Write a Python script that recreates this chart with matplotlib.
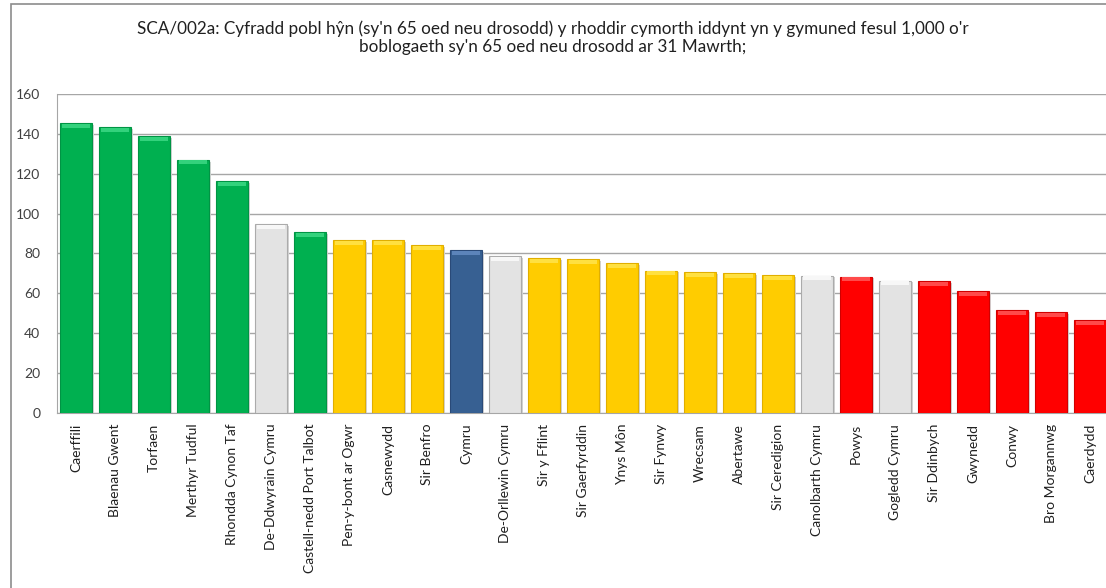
import numpy as np
import matplotlib
matplotlib.use("Agg")
import matplotlib.pyplot as plt
from matplotlib.patches import Rectangle

plt.rcParams['font.family'] = ['Lato', 'DejaVu Sans']

# Data
categories = ['Caerffili', 'Blaenau Gwent', 'Torfaen', 'Merthyr Tudful',
              'Rhondda Cynon Taf', 'De-Ddwyrain Cymru', 'Castell-nedd Port Talbot',
              'Pen-y-bont ar Ogwr', 'Casnewydd', 'Sir Benfro', 'Cymru',
              'De-Orllewin Cymru', 'Sir y Fflint', 'Sir Gaerfyrddin', 'Ynys Môn',
              'Sir Fynwy', 'Wrecsam', 'Abertawe', 'Sir Ceredigion',
              'Canolbarth Cymru', 'Powys', 'Gogledd Cymru', 'Sir Ddinbych',
              'Gwynedd', 'Conwy', 'Bro Morgannwg', 'Caerdydd']
values = [145.3, 143.3, 138.9, 127.0, 116.2, 94.6, 90.7, 86.5, 86.5, 84.2,
          81.7, 78.7, 77.7, 77.1, 75.0, 71.3, 70.5, 70.1, 69.1,
          68.8, 68.3, 66.3, 66.1, 60.9, 51.6, 50.5, 46.4]
groups = ['top'] * 5 + ['region', 'top'] + ['mid'] * 3 + ['wales', 'region'] + \
         ['mid'] * 7 + ['region', 'low', 'region'] + ['low'] * 5
y_ticks = [0, 20, 40, 60, 80, 100, 120, 140, 160]
title = ("SCA/002a: Cyfradd pobl hŷn (sy'n 65 oed neu drosodd) y rhoddir cymorth iddynt yn y gymuned fesul 1,000 o'r\n"
         "boblogaeth sy'n 65 oed neu drosodd ar 31 Mawrth;")

fill = {'top': '#00B050', 'region': '#E3E3E3', 'mid': '#FFCC00',
        'wales': '#376092', 'low': '#FF0000'}
edge = {'top': '#009444', 'region': '#ABABAB', 'mid': '#E0AE00',
        'wales': '#2A4A78', 'low': '#D00000'}
light = {'top': '#33D27C', 'region': '#F7F7F7', 'mid': '#FFE040',
         'wales': '#5C84BA', 'low': '#FF4A4A'}

fig = plt.figure(figsize=(11.06, 5.88), dpi=100)
# outer chart-area frame (cut off at right and bottom like the screenshot)
fig.patches.append(Rectangle((11 / 1106, -0.1), 1.2, 1 - 4 / 588 + 0.1,
                             transform=fig.transFigure, fill=False,
                             edgecolor='#8C8C8C', linewidth=1.2))

ax = fig.add_axes([57 / 1106, 1 - 412.7 / 588, (1109.5 - 57) / 1106, (412.7 - 94) / 588])
x = np.arange(len(categories))
vals = np.array(values)
cols = [fill[g] for g in groups]
ecols = [edge[g] for g in groups]
lcols = [light[g] for g in groups]

# soft shadow
ax.bar(x + 0.05, vals, width=0.8, bottom=-0.9, color='#D3D3D3', zorder=2)
ax.bar(x, vals, width=0.8, color=cols, edgecolor=ecols, linewidth=0.8, zorder=3)
# bevel highlight at bar tops
strip = 2.0
ax.bar(x, np.full_like(vals, strip), width=0.72, bottom=vals - strip - 0.3,
       color=lcols, linewidth=0, zorder=4)

ax.set_xlim(-0.487, 26.5)
ax.set_ylim(0, 160)
ax.set_yticks(y_ticks)
ax.set_yticklabels([str(t) for t in y_ticks], fontsize=10, color='#404040')
ax.set_xticks(x)
ax.set_xticklabels(categories, rotation=90, fontsize=10, color='#202020')
ax.tick_params(axis='both', length=0)
ax.tick_params(axis='y', pad=12)
ax.tick_params(axis='x', pad=8)
ax.yaxis.grid(True, color='#A6A6A6', linewidth=1.0, zorder=0)
ax.set_axisbelow(True)
for s in ['top', 'right']:
    ax.spines[s].set_visible(False)
ax.spines['left'].set_color('#A6A6A6')
ax.spines['bottom'].set_color('#A6A6A6')

fig.text(0.5, 1 - 38 / 588, title, ha='center', va='center', fontsize=12.3,
         color='#202020', linespacing=1.15)

fig.savefig('out.png', dpi=100)
